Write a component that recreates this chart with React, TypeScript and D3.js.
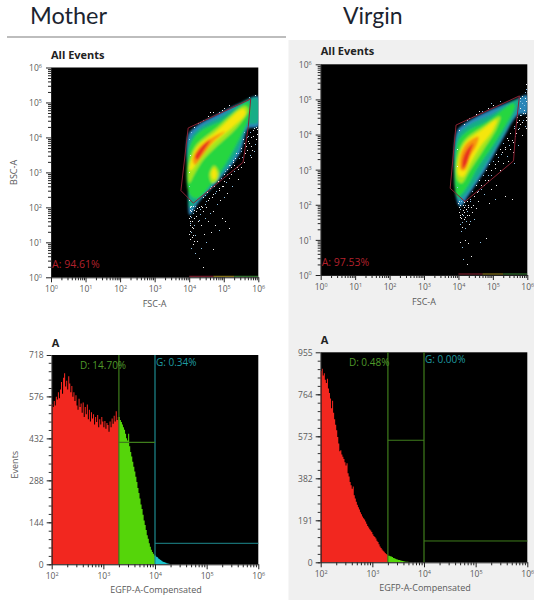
import React, { useEffect, useRef } from 'react';
import * as d3 from 'd3';

type Pt = number[];

// all density coordinates are log10 decades, [FSC-A, BSC-A]
const bandColors = ['#2a86b8', '#14ad86', '#25d63f', '#a5e61c', '#f5e60f', '#f7980f', '#e8301a'];

const motherBands: Pt[][] = [
  [[3.97,4.07],[4.21,4.33],[4.79,4.65],[5.47,4.98],[6,5.17],[6,4.31],[5.71,4.25],[5.47,3.55],[4.9,2.82],[4.28,2.15],[4.02,1.78],[3.97,2.6]],
  [[4,3.88],[4.31,4.27],[4.89,4.58],[5.71,5.08],[5.97,5.12],[5.97,4.41],[5.71,4.36],[5.42,3.65],[4.89,2.88],[4.26,2.21],[4.02,1.98],[3.98,2.79]],
  [[4,3.69],[4.31,4.17],[4.94,4.48],[5.71,5],[5.74,4.65],[5.37,3.8],[4.85,2.95],[4.21,2.26],[4,2.4]],
  [[4,3.26],[4.17,3.74],[4.79,4.27],[5.61,4.9],[5.71,4.79],[5.37,4.27],[4.79,3.74],[4.41,3.36],[4.17,2.98],[4,2.69]],
  [[4,3.07],[4.21,3.69],[4.79,4.17],[5.56,4.81],[5.64,4.69],[5.27,4.31],[4.7,3.84],[4.31,3.41],[4.07,3.07]],
  [[4.1,3.36],[4.31,3.74],[4.79,4.07],[5.03,4.17],[4.7,3.88],[4.36,3.45],[4.17,3.22]],
  [[4.17,3.45],[4.36,3.74],[4.6,3.93],[4.41,3.6],[4.23,3.36]],
];
const motherBlobLime = [[4.72,3.2],[4.86,3.0],[4.8,2.75],[4.66,2.7],[4.58,2.95]];
const motherBlobYellow = [[4.72,3.12],[4.8,2.98],[4.76,2.82],[4.68,2.82],[4.64,2.98]];

const virginBands: Pt[][] = [
  [[3.95,4.08],[4.19,4.32],[4.82,4.65],[5.74,5.03],[5.98,5.13],[5.98,4.6],[5.74,4.56],[5.25,3.8],[4.8,3.02],[4.3,2.28],[4.05,1.95],[3.93,2.23]],
  [[3.97,3.94],[4.24,4.23],[4.92,4.56],[5.74,4.99],[5.71,4.75],[5.21,3.85],[4.72,3.04],[4.24,2.33],[4,2.14],[3.95,2.61]],
  [[3.97,3.75],[4.24,4.08],[4.82,4.37],[5.6,4.89],[5.64,4.8],[5.11,3.85],[4.58,3.09],[4.19,2.42],[3.97,2.23]],
  [[3.97,3.37],[4.19,3.85],[4.72,4.23],[5.21,4.51],[5.11,4.18],[4.72,3.56],[4.34,2.99],[4.09,2.61],[3.97,2.71]],
  [[4,3.28],[4.19,3.75],[4.68,4.13],[5.11,4.42],[4.97,4.08],[4.63,3.66],[4.34,3.18],[4.14,2.8],[4,2.85]],
  [[4.05,3.37],[4.24,3.75],[4.58,3.94],[4.53,3.7],[4.34,3.37],[4.19,2.99],[4.07,2.99]],
  [[4.12,3.28],[4.24,3.56],[4.43,3.75],[4.34,3.47],[4.22,3.13],[4.12,3.03]],
];

const motherGate = [[3.97,4.27],[3.76,2.48],[4.12,2.12],[5.56,3.29],[5.71,4.31],[5.78,5.1]];
const virginGate = [[3.93,4.27],[3.76,2.47],[4.19,2.09],[5.6,3.25],[5.67,4.18],[5.77,5.1]];

const motherSpeckle = [
  [4,1.7],[4.03,1.5],[4.05,1.3],[4.02,1.1],[4.08,1.6],[4.1,1.85],[4.12,1.4],[4.15,1.7],[4.18,1.2],[4.2,1.9],[4.25,1.6],[4.3,1.8],
  [4.35,1.5],[4.4,1.9],[4.45,1.7],[4.5,2],[4.55,1.6],[4.6,1.85],[4.7,1.9],[4.75,1.5],[4.8,2.1],[4.9,2.2],[4.95,1.7],[5,2.3],
  [5.1,2.4],[5.15,1.4],[5.25,2.6],[5.4,2.8],[4.05,1.9],[4.01,1.55],[4.07,1.15],[4.11,0.95],[4.16,0.7],[4.22,1.05],[4.28,0.55],[4.34,0.85],
  [4.4,0.3],[4.42,1.25],[4.5,1],[4.62,1.3],[4.7,0.8],[4.85,1.35],[5.05,1.6],[3.99,1.25],[4.04,0.85],[4.14,1.05],
  [5.3,3.2],[5.5,3.6],[5.6,3.3],[5.7,3.9],[5.75,3.5],[5.8,4],[5.85,4.2],[5.9,3.8],[5.95,4.1],[5.65,3.75],[5.45,3.4],[5.35,3.55],
  [5.2,3.15],[5.1,2.95],[5,2.75],[5.55,3.95],[5.6,4.15],[5.82,3.65],[5.92,4.3],[5.7,4.05],[5.28,3.35],[5.15,3.2],[5.05,3.05],[4.95,2.6],
  [4.85,2.55],[4.75,2.4],[4.65,2.3],[4.55,2.2],[4.45,2.1],[4.35,2.05],[4.6,2.55],[4.45,2.35],[5.42,3.1],[5.5,3.15],
  [4.05,4.15],[4.15,4.3],[4.25,4.4],[4.4,4.5],[4.55,4.6],[4.7,4.72],[4.85,4.72],[5,4.85],[5.15,4.92],[4.3,4.45],[4.6,4.72],[4.95,4.78],
  [3.99,3.95],[4.01,3.5],[3.98,3],[4,2.6],[3.99,2.2],[4.02,2],[5.72,5.15],[5.9,5.2],
  [4.4,2.3],[4.48,2.18],[4.52,2.45],[4.58,2.28],[4.63,2.6],[4.68,2.38],[4.72,2.62],[4.78,2.48],[4.82,2.75],[4.87,2.5],[4.92,2.85],[4.97,2.62],
  [5.02,2.95],[5.06,2.72],[5.1,3.1],[5.14,2.85],[5.18,3.2],[5.22,2.95],[5.26,3.3],[5.3,3.05],[5.34,3.4],[5.38,3.15],[5.42,3.55],[5.46,3.25],
  [5.5,3.7],[5.54,3.45],[5.58,3.85],[5.62,3.55],[5.66,4],[5.68,3.65],[5.72,3.85],[5.76,4.15],[5.8,3.75],[5.84,4.05],[5.88,3.6],[5.92,3.95],
  [5.96,4.25],[5.98,3.7],[5.78,3.45],[5.88,4.28],[4.01,2.05],[4.03,1.92],[4.06,2.05],[4.08,1.95],[4.12,2.05],[4.15,1.92],[4.18,2.05],[4.22,1.98],
  [4.27,2.02],[4.32,1.95],[4.38,2.02],[4.03,1.75],[4.06,1.72],[4.09,1.45],[4.02,1.32],[4.14,1.5],[4.01,1.62],[4.2,1.75],[4.28,1.65],[4.12,1.2],
];
const virginSpeckle = [
  [4.02,1.8],[4.06,1.65],[4.1,1.5],[4.13,1.85],[4.17,1.6],[4.2,1.35],[4.24,1.7],[4.28,1.95],[4.33,1.55],[4.38,1.8],[4.42,2],[4.45,1.6],
  [4.52,1.9],[4.58,2.1],[4.05,1.45],[4.09,1.75],[4.16,1.95],[4.22,1.55],[4.3,1.45],[4.04,0.95],[4.1,0.8],[4.18,1],[4.27,0.9],[4.12,0.45],
  [4.25,0.3],[4.36,0.55],[4.62,0.95],[4.8,1.05],[4.88,2.05],[5.05,2.15],[5.55,2.15],[5.35,2.25],[4.75,2.3],[4.95,2.45],[5.1,2.55],[4.07,1.25],
  [5.2,3],[5.3,3.2],[5.4,3.4],[5.5,3.6],[5.58,3.8],[5.65,3.95],[5.72,4.15],[5.8,4.3],[5.88,4.4],[5.95,4.5],[5.76,4.4],[5.82,4.55],
  [5.9,4.7],[5.78,4.75],[5.85,4.9],[5.92,5.05],[5.7,4.5],[5.62,4.25],[5.45,3.85],[5.35,3.65],[5.25,3.45],[5.15,3.25],[5.05,3.05],[4.95,2.85],
  [4.85,2.7],[4.75,2.55],[4.65,2.45],[4.55,2.35],[4.45,2.25],[4.35,2.15],[5.45,3.25],[5.58,3.5],[5.72,3.7],[5.85,4],[5.95,4.2],[5.6,3.2],
  [4.03,4.12],[4.15,4.3],[4.25,4.42],[4.38,4.5],[4.52,4.58],[4.68,4.68],[4.85,4.76],[5,4.85],[5.2,4.95],[4.3,4.48],[4.6,4.68],[4.95,4.9],
  [3.97,3.6],[3.96,3.1],[3.95,2.5],[3.98,2.05],[4.01,1.95],[5.97,5.3],[5.95,5.45],[5.98,5.2],
  [4.4,2.4],[4.46,2.25],[4.5,2.55],[4.56,2.4],[4.6,2.7],[4.66,2.55],[4.7,2.85],[4.76,2.7],[4.8,3],[4.86,2.85],[4.9,3.15],[4.96,3],
  [5,3.25],[5.06,3.15],[5.1,3.45],[5.16,3.35],[5.2,3.6],[5.26,3.5],[5.3,3.75],[5.36,3.6],[5.4,3.9],[5.46,3.7],[5.5,4.05],[5.56,3.85],
  [5.6,4.2],[5.66,4.05],[5.7,4.35],[5.76,4.2],[5.8,4.55],[5.86,4.35],[5.9,4.85],[5.94,4.6],[5.97,4.95],[5.8,4.95],[5.85,5.1],[5.78,5.05],
  [5.93,5.2],[5.88,4.6],[5.96,4.4],[5.92,4.25],[4.02,2.1],[4.05,2],[4.08,2.12],[4.12,1.98],[4.16,2.08],[4.2,2],[4.25,2.12],[4.29,2],
  [4.34,2.1],[4.04,1.72],[4.08,1.62],[4.12,1.72],[4.16,1.8],[4.2,1.65],[4.26,1.82],[4.32,1.7],[4.1,1.38],[4.06,1.88],[4.22,1.88],[4.36,1.95],
];

// events piled up on the bottom edge of the dot plots: [from decade, to decade]
const edgeRuns = [[4, 4.7], [4.7, 5.3], [5.3, 6]];
const edgeColors = ['#8a2233', '#a08a20', '#3f8a3a'];

// events per bin, bins are 0.02 decades wide and start at 10^2
const motherCounts = [
  550,540,560,545,575,565,590,570,600,625,585,640,655,610,630,600,645,620,590,612,575,590,560,580,545,530,568,540,552,520,555,505,540,
  515,548,498,530,490,522,500,515,480,505,488,512,470,498,480,505,490,470,492,465,485,478,455,490,470,500,482,510,490,525,495,505,
  505,495,488,480,470,462,448,432,425,448,405,385,370,352,335,318,300,282,262,245,226,205,190,170,150,135,118,100,88,72,60,50,42,36,30,
  30,26,24,20,17,15,12,10,8,7,5,4,3,2,1,
];
const virginCounts = [
  870,880,850,860,830,815,835,790,770,745,700,735,680,650,625,600,570,540,505,510,490,480,470,455,440,450,405,390,365,350,335,345,305,
  290,275,262,250,240,228,218,208,200,195,185,175,165,158,150,145,138,128,120,115,108,98,92,82,72,65,58,52,48,42,38,34,
  30,30,28,26,24,20,18,16,14,13,11,10,8,7,6,5,4,3,2,2,1,
];

const motherEventTicks = [0, 144, 288, 432, 576, 718];
const virginEventTicks = [0, 191, 382, 573, 764, 955];

// first and last bin (exclusive) of the D, G and ungated parts of a histogram
const histParts = [[0, 65, '#f2271f'], [65, 100, '#55d50a'], [100, 400, '#19c4cc']];

const textFont = '"Open Sans", "Liberation Sans", sans-serif';
const tickColor = '#5a5a5a';

function decorateLogAxis(g: any, horizontal: boolean) {
  g.select('.domain').attr('stroke', '#222');
  g.selectAll('.tick').each(function (this: any, d: any) {
    const tick = d3.select(this);
    const exp = Math.log10(d);
    const major = Math.abs(exp - Math.round(exp)) < 1e-6;
    tick.select('line').attr('stroke', '#222');
    tick.select('line').attr(horizontal ? 'y2' : 'x2', horizontal ? (major ? 5 : 3) : (major ? -5 : -3));
    tick.select('text').text(null);
    if (!major) return;
    const t = tick.select('text')
      .attr('fill', tickColor)
      .attr('font-size', 8.5)
      .attr('font-family', textFont);
    if (horizontal) t.attr('y', 9).attr('text-anchor', 'middle');
    else t.attr('x', -9).attr('text-anchor', 'end').attr('dy', '0.4em');
    t.append('tspan').text('10');
    t.append('tspan').attr('font-size', 5.5).attr('dy', -3.5).text(String(Math.round(exp)));
  });
}

const LogAxis = ({ scale, horizontal, at }: any) => {
  const ref = useRef<SVGGElement>(null);
  useEffect(() => {
    const g = d3.select(ref.current);
    const axis = horizontal ? d3.axisBottom(scale) : d3.axisLeft(scale);
    axis.tickValues(scale.ticks()).tickSizeOuter(0).tickFormat(() => '');
    g.call(axis as any);
    decorateLogAxis(g, horizontal);
  }, [scale, horizontal]);
  return <g ref={ref} transform={`translate(${at[0]},${at[1]})`} />;
};

const CountAxis = ({ scale, values, at }: any) => {
  const ref = useRef<SVGGElement>(null);
  useEffect(() => {
    const g = d3.select(ref.current);
    const step = values[1] / 5;
    const minor = d3.range(0, values[values.length - 1], step);
    g.call(d3.axisLeft(scale).tickValues(minor).tickSize(3).tickSizeOuter(0).tickFormat(() => '') as any);
    g.select('.domain').attr('stroke', '#222');
    g.selectAll('.tick line').attr('stroke', '#333');
    const major = g.append('g');
    major.call(d3.axisLeft(scale).tickValues(values).tickSize(5).tickSizeOuter(0).tickFormat(d3.format('d') as any) as any);
    major.select('.domain').remove();
    major.selectAll('.tick line').attr('stroke', '#222');
    major.selectAll('.tick text')
      .attr('fill', tickColor)
      .attr('font-size', 8.5)
      .attr('font-family', textFont);
  }, [scale, values]);
  return <g ref={ref} transform={`translate(${at[0]},${at[1]})`} />;
};

const DotPlot = ({ id, box, bands, blobs, gate, speckle, label, yLabel }: any) => {
  const [left, top, right, bottom] = box;
  const x = d3.scaleLog().domain([1, 1e6]).range([left, right]);
  const y = d3.scaleLog().domain([1, 1e6]).range([bottom, top]);
  const smooth = d3.line<Pt>().x((d) => x(10 ** d[0])).y((d) => y(10 ** d[1])).curve(d3.curveCatmullRomClosed.alpha(0.5));
  const straight = d3.line<Pt>().x((d) => x(10 ** d[0])).y((d) => y(10 ** d[1])).curve(d3.curveLinearClosed);
  return (
    <g>
      <rect x={left} y={top} width={right - left} height={bottom - top} fill="#000" />
      <clipPath id={id}><rect x={left} y={top} width={right - left} height={bottom - top} /></clipPath>
      <g clipPath={`url(#${id})`}>
        <g filter="url(#soft)">
          {bands.map((b: Pt[], i: number) => <path key={i} d={smooth(b) as string} fill={bandColors[i]} />)}
          {blobs.map((b: any, i: number) => <path key={i} d={smooth(b.points) as string} fill={b.color} />)}
        </g>
        {speckle.map((p: Pt, i: number) => (
          <rect key={i} x={Math.round(x(10 ** p[0]))} y={Math.round(y(10 ** p[1]))} width={1} height={1} fill={i % 3 === 2 ? '#8fc4e8' : '#f4f4f4'} />
        ))}
        {edgeRuns.map((r, i) => (
          <line key={i} x1={x(10 ** r[0])} x2={x(10 ** r[1])} y1={bottom - 1} y2={bottom - 1} stroke={edgeColors[i]} />
        ))}
        <path d={straight(gate) as string} fill="none" stroke="#8a2233" strokeWidth={1} />
      </g>
      <text x={left + 1} y={bottom - 9} fontSize={10.5} fontFamily={textFont} fill="#b3202c">{label}</text>
      <text x={left} y={top - 9} fontSize={11} fontWeight={700} fontFamily={textFont} fill="#222">All Events</text>
      <LogAxis scale={x} horizontal at={[0, bottom]} />
      <LogAxis scale={y} horizontal={false} at={[left, 0]} />
      <text x={(left + right) / 2} y={bottom + 30} textAnchor="middle" fontSize={9} fontFamily={textFont} fill={tickColor}>FSC-A</text>
      {yLabel && (
        <text transform={`translate(${left - 34},${(top + bottom) / 2}) rotate(-90)`} textAnchor="middle" fontSize={9} fontFamily={textFont} fill={tickColor}>{yLabel}</text>
      )}
    </g>
  );
};

const HistPlot = ({ box, counts, ticks, dLevel, gLevel, dLabel, gLabel, gColor, yLabel }: any) => {
  const [left, top, right, bottom] = box;
  const x = d3.scaleLog().domain([100, 1e6]).range([left, right]);
  const y = d3.scaleLinear().domain([0, ticks[ticks.length - 1]]).range([bottom, top]);
  const binStart = (i: number) => 10 ** (2 + i * 0.02);
  const area = d3.area<number>()
    .x((i) => x(binStart(i)))
    .y0(bottom)
    .y1((i) => y(counts[Math.min(i, counts.length - 1)]))
    .curve(d3.curveStepAfter);
  return (
    <g>
      <rect x={left} y={top} width={right - left} height={bottom - top} fill="#000" />
      {histParts.map((p: any, i: number) => {
        const end = Math.min(p[1], counts.length);
        return p[0] < end ? <path key={i} d={area(d3.range(p[0], end + 1)) as string} fill={p[2]} /> : null;
      })}
      <line x1={x(2000)} x2={x(2000)} y1={top} y2={bottom} stroke="#3f7d1c" strokeWidth={1.2} />
      <line x1={x(1e4)} x2={x(1e4)} y1={top} y2={bottom} stroke={gColor} strokeWidth={1.2} />
      <line x1={x(2000)} x2={x(1e4)} y1={y(dLevel)} y2={y(dLevel)} stroke="#3f7d1c" strokeWidth={1.2} />
      <line x1={x(1e4)} x2={right} y1={y(gLevel)} y2={y(gLevel)} stroke={gColor} strokeWidth={1} />
      <text x={x(2000)} y={top + 14} dx={-39} fontSize={10} fontFamily={textFont} fill="#4f9a2a">{dLabel}</text>
      <text x={x(1e4)} y={top + 11} dx={1} fontSize={10} fontFamily={textFont} fill="#1f9aa0">{gLabel}</text>
      <text x={left} y={top - 8} fontSize={11} fontWeight={700} fontFamily={textFont} fill="#222">A</text>
      <LogAxis scale={x} horizontal at={[0, bottom]} />
      <CountAxis scale={y} values={ticks} at={[left, 0]} />
      <text x={(left + right) / 2 + 1} y={bottom + 29} textAnchor="middle" fontSize={9} fontFamily={textFont} fill={tickColor}>EGFP-A-Compensated</text>
      {yLabel && (
        <text transform={`translate(${left - 34},${(top + bottom) / 2 + 5}) rotate(-90)`} textAnchor="middle" fontSize={9} fontFamily={textFont} fill={tickColor}>{yLabel}</text>
      )}
    </g>
  );
};

export default function App() {
  return (
    <svg width={534} height={600} viewBox="0 0 534 600" style={{ position: 'absolute', left: 0, top: 0, background: '#fff' }}>
      <defs>
        <filter id="soft" x="-10%" y="-10%" width="120%" height="120%">
          <feGaussianBlur stdDeviation="1" />
        </filter>
      </defs>
      <rect x={288.5} y={40} width={245.5} height={560} fill="#f0f0f0" />
      <line x1={7} x2={286} y1={37} y2={37} stroke="#bdbdbd" strokeWidth={2} />
      <text x={30} y={24} fontSize={23.5} fontFamily="Lato, sans-serif" fill="#1c2430">Mother</text>
      <text x={343} y={24} fontSize={23} fontFamily="Lato, sans-serif" fill="#1c2430">Virgin</text>

      <DotPlot
        id="clipMother"
        box={[51, 67.5, 258.3, 277.3]}
        bands={motherBands}
        blobs={[{ points: motherBlobLime, color: '#a5e61c' }, { points: motherBlobYellow, color: '#f5e60f' }]}
        gate={motherGate}
        speckle={motherSpeckle}
        label="A: 94.61%"
        yLabel="BSC-A"
      />
      <DotPlot
        id="clipVirgin"
        box={[320.7, 64.3, 527.3, 275]}
        bands={virginBands}
        blobs={[]}
        gate={virginGate}
        speckle={virginSpeckle}
        label="A: 97.53%"
      />
      <HistPlot
        box={[51.7, 355, 258.3, 564.3]}
        counts={motherCounts}
        ticks={motherEventTicks}
        dLevel={418}
        gLevel={72}
        dLabel="D: 14.70%"
        gLabel="G: 0.34%"
        gColor="#1d8a8f"
        yLabel="Events"
      />
      <HistPlot
        box={[320.7, 352.3, 527.3, 562.3]}
        counts={virginCounts}
        ticks={virginEventTicks}
        dLevel={555}
        gLevel={97}
        dLabel="D: 0.48%"
        gLabel="G: 0.00%"
        gColor="#3f7d1c"
      />
    </svg>
  );
}
